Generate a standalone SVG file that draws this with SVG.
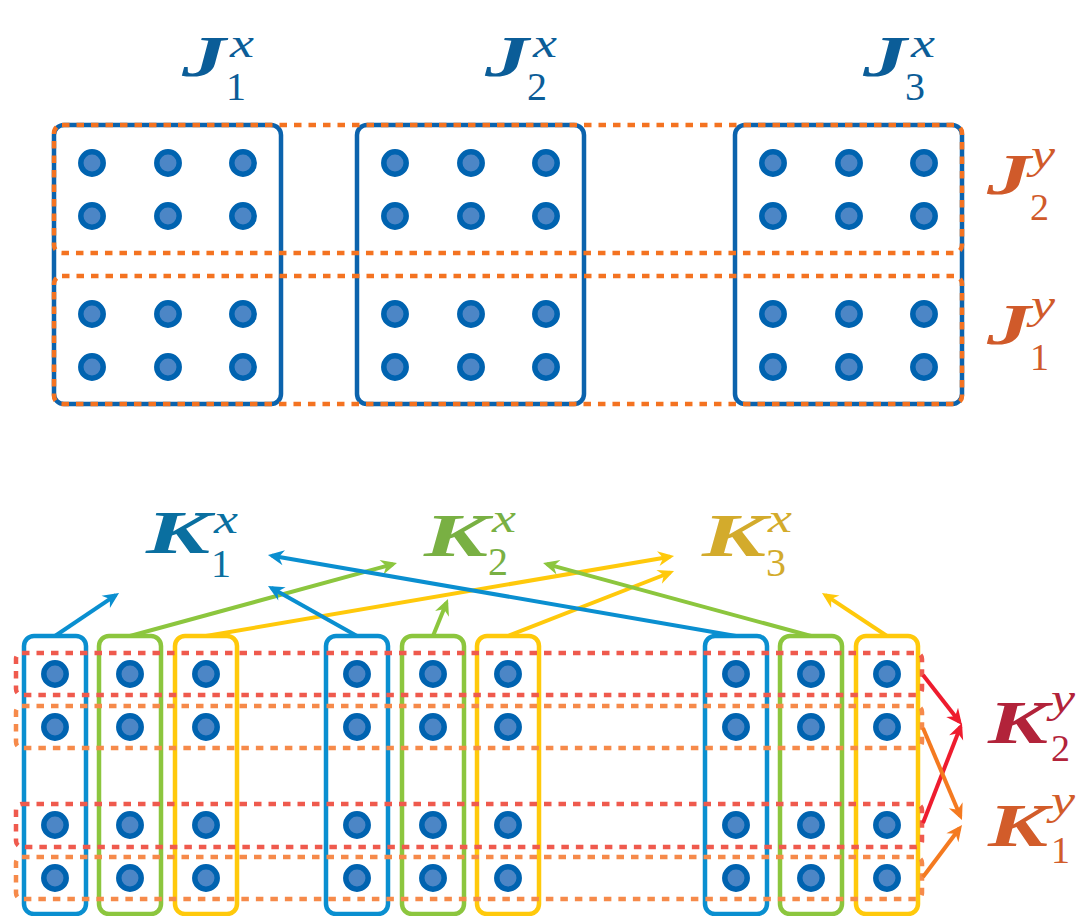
<svg xmlns="http://www.w3.org/2000/svg" width="1076" height="916" viewBox="0 0 1076 916">
<style>
.bg{fill:#ffffff}
.jbox{fill:none;stroke:#0b63ad;stroke-width:4.5}
.odash{fill:none;stroke:#f47321;stroke-width:4.5;stroke-dasharray:7.5 7}
.dot{fill:#4c86c6;stroke:#0063b0;stroke-width:5.5}
.kb{fill:none;stroke:#0a8fd0;stroke-width:4.5}
.kg{fill:none;stroke:#8cc63e;stroke-width:4.5}
.ky{fill:none;stroke:#ffc90b;stroke-width:4.5}
.rdash{fill:none;stroke:#ef5a4d;stroke-width:4.5;stroke-dasharray:7.5 7}
.odash2{fill:none;stroke:#f68a4a;stroke-width:4.5;stroke-dasharray:7.5 7}
.main{font-family:"Liberation Serif","DejaVu Serif","Times New Roman",serif;font-weight:bold;font-style:italic}
.idx{font-family:"Liberation Serif","DejaVu Serif","Times New Roman",serif}
.sup{font-family:"Liberation Serif","DejaVu Serif","Times New Roman",serif;font-style:italic}
.conn{fill:none;stroke-width:4;stroke-linecap:butt}
</style>
<defs>
<marker id="ah-b" viewBox="-14 -8 20 16" refX="0" refY="0" markerWidth="20" markerHeight="16" markerUnits="userSpaceOnUse" orient="auto"><path d="M4,0 L-12,-7.5 L-7,0 L-12,7.5 Z" fill="#0a8fd0"/></marker>
<marker id="ah-g" viewBox="-14 -8 20 16" refX="0" refY="0" markerWidth="20" markerHeight="16" markerUnits="userSpaceOnUse" orient="auto"><path d="M4,0 L-12,-7.5 L-7,0 L-12,7.5 Z" fill="#8cc63e"/></marker>
<marker id="ah-y" viewBox="-14 -8 20 16" refX="0" refY="0" markerWidth="20" markerHeight="16" markerUnits="userSpaceOnUse" orient="auto"><path d="M4,0 L-12,-7.5 L-7,0 L-12,7.5 Z" fill="#ffc90b"/></marker>
<marker id="ah-r" viewBox="-14 -8 20 16" refX="0" refY="0" markerWidth="20" markerHeight="16" markerUnits="userSpaceOnUse" orient="auto"><path d="M4,0 L-12,-7.5 L-7,0 L-12,7.5 Z" fill="#ee1c2e"/></marker>
<marker id="ah-o" viewBox="-14 -8 20 16" refX="0" refY="0" markerWidth="20" markerHeight="16" markerUnits="userSpaceOnUse" orient="auto"><path d="M4,0 L-12,-7.5 L-7,0 L-12,7.5 Z" fill="#f47a20"/></marker>
<g id="dots6">
<circle class="dot" cx="0" cy="0" r="11.2"/><circle class="dot" cx="76" cy="0" r="11.2"/><circle class="dot" cx="151" cy="0" r="11.2"/>
<circle class="dot" cx="0" cy="53" r="11.2"/><circle class="dot" cx="76" cy="53" r="11.2"/><circle class="dot" cx="151" cy="53" r="11.2"/>
</g>
<g id="col4">
<circle class="dot" cx="0" cy="0" r="11.2"/><circle class="dot" cx="0" cy="53" r="11.2"/><circle class="dot" cx="0" cy="151" r="11.2"/><circle class="dot" cx="0" cy="204" r="11.2"/>
</g>
</defs>
<rect class="bg" x="0" y="0" width="1076" height="916"/>

<!-- Top section: J^x blocks -->
<g id="J1x-block">
<rect class="jbox" x="54" y="125" width="227" height="279" rx="10"/>
<use href="#dots6" x="92" y="163"/>
<use href="#dots6" x="92" y="314"/>
</g>
<g id="J2x-block">
<rect class="jbox" x="357" y="125" width="227" height="279" rx="10"/>
<use href="#dots6" x="395" y="163"/>
<use href="#dots6" x="395" y="314"/>
</g>
<g id="J3x-block">
<rect class="jbox" x="735" y="125" width="227" height="279" rx="10"/>
<use href="#dots6" x="773" y="163"/>
<use href="#dots6" x="773" y="314"/>
</g>
<g id="J2y-band">
<rect class="odash" x="54" y="125" width="908" height="128" rx="8"/>
</g>
<g id="J1y-band">
<rect class="odash" x="54" y="276" width="908" height="128" rx="8"/>
</g>

<!-- Top labels -->
<g id="label-J1x" fill="#0b5d98">
<text class="main" x="182" y="76" font-size="58" textLength="44" lengthAdjust="spacingAndGlyphs">J</text>
<text class="idx" x="226" y="100" font-size="40">1</text>
<text class="sup" x="230" y="57" font-size="40" textLength="24" lengthAdjust="spacingAndGlyphs">x</text>
</g>
<g id="label-J2x" fill="#0b5d98">
<text class="main" x="485" y="76" font-size="58" textLength="44" lengthAdjust="spacingAndGlyphs">J</text>
<text class="idx" x="527" y="100" font-size="40">2</text>
<text class="sup" x="533" y="57" font-size="40" textLength="24" lengthAdjust="spacingAndGlyphs">x</text>
</g>
<g id="label-J3x" fill="#0b5d98">
<text class="main" x="863" y="76" font-size="58" textLength="44" lengthAdjust="spacingAndGlyphs">J</text>
<text class="idx" x="905" y="100" font-size="40">3</text>
<text class="sup" x="911" y="57" font-size="40" textLength="24" lengthAdjust="spacingAndGlyphs">x</text>
</g>
<g id="label-J2y" fill="#d05a2a">
<text class="main" x="987" y="194" font-size="58" textLength="44" lengthAdjust="spacingAndGlyphs">J</text>
<text class="idx" x="1030" y="220" font-size="38">2</text>
<text class="sup" x="1031" y="168" font-size="40" textLength="24" lengthAdjust="spacingAndGlyphs">y</text>
</g>
<g id="label-J1y" fill="#d05a2a">
<text class="main" x="987" y="344" font-size="58" textLength="44" lengthAdjust="spacingAndGlyphs">J</text>
<text class="idx" x="1030" y="370" font-size="38">1</text>
<text class="sup" x="1031" y="318" font-size="40" textLength="24" lengthAdjust="spacingAndGlyphs">y</text>
</g>

<!-- Bottom section: K^x columns -->
<g id="K1x-col-a"><rect class="kb" x="24" y="636" width="62" height="278" rx="10"/><use href="#col4" x="55" y="674"/></g>
<g id="K2x-col-a"><rect class="kg" x="99" y="636" width="62" height="278" rx="10"/><use href="#col4" x="130" y="674"/></g>
<g id="K3x-col-a"><rect class="ky" x="175" y="636" width="62" height="278" rx="10"/><use href="#col4" x="206" y="674"/></g>
<g id="K1x-col-b"><rect class="kb" x="326" y="636" width="62" height="278" rx="10"/><use href="#col4" x="357" y="674"/></g>
<g id="K2x-col-b"><rect class="kg" x="402" y="636" width="62" height="278" rx="10"/><use href="#col4" x="433" y="674"/></g>
<g id="K3x-col-b"><rect class="ky" x="477" y="636" width="62" height="278" rx="10"/><use href="#col4" x="508" y="674"/></g>
<g id="K1x-col-c"><rect class="kb" x="705" y="636" width="62" height="278" rx="10"/><use href="#col4" x="736" y="674"/></g>
<g id="K2x-col-c"><rect class="kg" x="780" y="636" width="62" height="278" rx="10"/><use href="#col4" x="811" y="674"/></g>
<g id="K3x-col-c"><rect class="ky" x="856" y="636" width="62" height="278" rx="10"/><use href="#col4" x="887" y="674"/></g>

<!-- K^y bands -->
<g id="K2y-band-a"><rect class="rdash" x="16" y="653" width="906" height="42" rx="6"/></g>
<g id="K1y-band-a"><rect class="odash2" x="16" y="706" width="906" height="42" rx="6"/></g>
<g id="K2y-band-b"><rect class="rdash" x="16" y="804" width="906" height="43" rx="6"/></g>
<g id="K1y-band-b"><rect class="odash2" x="16" y="857" width="906" height="42" rx="6"/></g>

<!-- Connectors -->
<g id="connectors">
<line class="conn" stroke="#0a8fd0" x1="55" y1="636" x2="115.7" y2="595.2" marker-end="url(#ah-b)"/>
<line class="conn" stroke="#8cc63e" x1="130" y1="636" x2="393.1" y2="564.1" marker-end="url(#ah-g)"/>
<line class="conn" stroke="#ffc90b" x1="206" y1="636" x2="670.1" y2="556.7" marker-end="url(#ah-y)"/>
<line class="conn" stroke="#0a8fd0" x1="357" y1="636" x2="271.5" y2="588.0" marker-end="url(#ah-b)"/>
<line class="conn" stroke="#8cc63e" x1="433" y1="636" x2="446.5" y2="602.7" marker-end="url(#ah-g)"/>
<line class="conn" stroke="#ffc90b" x1="508" y1="636" x2="670.3" y2="572.5" marker-end="url(#ah-y)"/>
<line class="conn" stroke="#0a8fd0" x1="736" y1="636" x2="271.9" y2="555.7" marker-end="url(#ah-b)"/>
<line class="conn" stroke="#8cc63e" x1="811" y1="636" x2="546.9" y2="564.1" marker-end="url(#ah-g)"/>
<line class="conn" stroke="#ffc90b" x1="887" y1="636" x2="825.3" y2="595.2" marker-end="url(#ah-y)"/>
<line class="conn" stroke="#ee1c2e" x1="923" y1="675" x2="959.5" y2="721.8" marker-end="url(#ah-r)"/>
<line class="conn" stroke="#ee1c2e" x1="923" y1="823" x2="960.5" y2="726.7" marker-end="url(#ah-r)"/>
<line class="conn" stroke="#f47a20" x1="923" y1="728" x2="960.4" y2="816.3" marker-end="url(#ah-o)"/>
<line class="conn" stroke="#f47a20" x1="923" y1="877" x2="959.6" y2="828.2" marker-end="url(#ah-o)"/>
</g>

<!-- Bottom labels -->
<g id="label-K1x" fill="#0a6fa0">
<text class="main" x="146" y="553" font-size="62" textLength="64" lengthAdjust="spacingAndGlyphs">K</text>
<text class="idx" x="211" y="577" font-size="40">1</text>
<text class="sup" x="214" y="533" font-size="40" textLength="24" lengthAdjust="spacingAndGlyphs">x</text>
</g>
<g id="label-K2x" fill="#79b043">
<text class="main" x="424" y="556" font-size="62" textLength="64" lengthAdjust="spacingAndGlyphs">K</text>
<text class="idx" x="488" y="575" font-size="40">2</text>
<text class="sup" x="492" y="532" font-size="40" textLength="24" lengthAdjust="spacingAndGlyphs">x</text>
</g>
<g id="label-K3x" fill="#d3ab2c">
<text class="main" x="702" y="556" font-size="62" textLength="64" lengthAdjust="spacingAndGlyphs">K</text>
<text class="idx" x="766" y="576" font-size="40">3</text>
<text class="sup" x="768" y="532" font-size="40" textLength="24" lengthAdjust="spacingAndGlyphs">x</text>
</g>
<g id="label-K2y" fill="#b2233a">
<text class="main" x="988" y="743" font-size="62" textLength="60" lengthAdjust="spacingAndGlyphs">K</text>
<text class="idx" x="1051" y="761" font-size="38">2</text>
<text class="sup" x="1051" y="712" font-size="40" textLength="24" lengthAdjust="spacingAndGlyphs">y</text>
</g>
<g id="label-K1y" fill="#d25c2a">
<text class="main" x="988" y="846" font-size="62" textLength="60" lengthAdjust="spacingAndGlyphs">K</text>
<text class="idx" x="1051" y="863" font-size="38">1</text>
<text class="sup" x="1051" y="814" font-size="40" textLength="24" lengthAdjust="spacingAndGlyphs">y</text>
</g>
</svg>
